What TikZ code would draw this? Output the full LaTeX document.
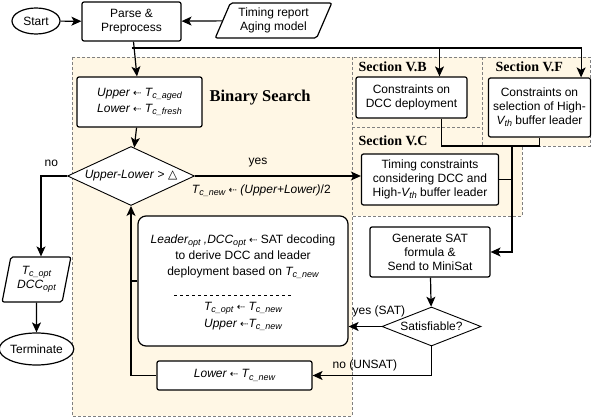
\documentclass[tikz,border=0pt]{standalone}
\usepackage{fontspec}
\setmainfont{Liberation Sans}
\newfontfamily\titlefont{Liberation Serif}
\newfontfamily\symfont{DejaVu Sans}
\usetikzlibrary{shapes.geometric,arrows.meta,backgrounds}
\definecolor{regionfill}{RGB}{255,247,229}
\newcommand{\sub}[1]{\raisebox{-0.35ex}{\fontsize{9}{9}\selectfont #1}}
\newcommand{\getsarrow}{{\symfont\fontsize{10}{10}\selectfont ⇠}}
\newcommand{\tri}{{\symfont △}}
\begin{document}
\begin{tikzpicture}[x=1pt,y=-1pt,
  font=\fontsize{12}{14}\selectfont,
  box/.style={draw, line width=1.2pt, rounded corners=2pt, align=center, inner sep=0pt, fill=white},
  decision/.style={draw, line width=0.9pt, diamond, inner sep=0pt, fill=white},
  terminal/.style={draw, line width=1.2pt, ellipse, inner sep=0pt, fill=white},
  io/.style={draw, line width=1.2pt, trapezium, trapezium stretches=true, rounded corners=2pt, align=center, inner sep=0pt, fill=white},
  region/.style={draw=gray, line width=0.5pt, dash pattern=on 3pt off 2pt, fill=regionfill},
  section/.style={font=\titlefont\bfseries\fontsize{14}{14}\selectfont, anchor=west},
  arr/.style={line width=1.2pt, -{Stealth[length=10pt,width=9pt,inset=2.5pt]}},
  line/.style={line width=1.2pt}]
  \useasboundingbox (0,0) rectangle (592,417);

  % Regions of the search and of the sections
  \draw[region] (72,57) rectangle (352,416);
  \draw[region] (352,57) rectangle (482,127);
  \draw[region] (352,127) rectangle (522,216);
  \draw[region] (482,57) rectangle (590,146);
  \node[font=\titlefont\bfseries\fontsize{16.5}{16.5}\selectfont] (bstitle) at (260,98) {Binary Search};
  \node[section] (secB) at (355,67) {Section V.B};
  \node[section] (secF) at (492,67) {Section V.F};
  \node[section] (secC) at (355,141) {Section V.C};

  % Flow nodes
  \node[terminal, minimum width=48pt, minimum height=26pt] (start) at (36,21) {Start};
  \node[box, minimum width=99pt, minimum height=39pt] (parse) at (131.5,21.5) {Parse \&\\Preprocess};
  \node[io, trapezium left angle=64, trapezium right angle=116, minimum width=117pt, minimum height=35pt] (inputs) at (273.5,20.5) {Timing report\\Aging model};
  \node[box, minimum width=125pt, minimum height=50pt, font=\itshape\fontsize{12}{16}\selectfont] (bounds) at (139.5,102) {Upper \getsarrow{} T\sub{c\_aged}\\Lower \getsarrow{} T\sub{c\_fresh}};
  \node[decision, aspect=2.15, minimum width=127pt, minimum height=59pt] (check) at (131,176) {\textit{Upper-Lower} > \tri};
  \node[box, minimum width=111pt, minimum height=41pt] (dcc) at (411.5,97.5) {Constraints on\\DCC deployment};
  \node[box, minimum width=102pt, minimum height=59pt] (leader) at (539.5,107.5) {Constraints on\\selection of High-\\\textit{V\sub{th}} buffer leader};
  \node[box, minimum width=137pt, minimum height=51pt] (timing) at (430,179.5) {Timing constraints\\considering DCC and\\High-\textit{V\sub{th}} buffer leader};
  \node[box, minimum width=120pt, minimum height=50pt] (gen) at (430,252) {Generate SAT\\formula \&\\Send to MiniSat};
  \node[decision, aspect=2.5, minimum width=99pt, minimum height=39pt] (sat) at (431.5,326.5) {Satisfiable?};
  \node[box, rounded corners=8pt, minimum width=210pt, minimum height=130pt] (decode) at (243,281) {};
  \node[align=center, font=\fontsize{12}{16}\selectfont] (decodetxt) at ([yshift=24pt]decode.center) {\textit{Leader\sub{opt} ,DCC\sub{opt}} \getsarrow{} SAT decoding\\to derive DCC and leader\\deployment based on \textit{T\sub{c\_new}}};
  \node[align=center, font=\itshape\fontsize{12}{17}\selectfont] (decoderes) at ([yshift=-35.5pt]decode.center) {T\sub{c\_opt} \getsarrow{} T\sub{c\_new}\\Upper \getsarrow{}T\sub{c\_new}};
  \draw[dashed, line width=0.6pt] ([xshift=-69pt,yshift=-14pt]decode.center) -- ([xshift=48pt,yshift=-14pt]decode.center);
  \node[box, minimum width=155pt, minimum height=29pt, font=\itshape\fontsize{12}{14}\selectfont] (lower) at (234.5,375.5) {Lower \getsarrow{} T\sub{c\_new}};
  \node[io, trapezium left angle=76, trapezium right angle=104, minimum width=69pt, minimum height=45pt, font=\itshape\fontsize{12}{14}\selectfont] (result) at (36.5,279.5) {T\sub{c\_opt}\\DCC\sub{opt}};
  \node[terminal, minimum width=69pt, minimum height=32pt] (stop) at (36.5,349) {Terminate};

  % Connectors
  \coordinate (fork) at (131.5,48);
  \coordinate (merge) at (512,146);
  \coordinate (dccin) at ([xshift=28pt]dcc.north);
  \coordinate (leaderin) at ([xshift=-10pt]leader.north east);
  \coordinate (dccout) at ([xshift=30pt]dcc.south);
  \coordinate (resultin) at ([xshift=4.5pt]result.north);
  \draw[arr] (start) -- (parse);
  \draw[arr] (inputs) -- (parse);
  \draw[arr] (parse) -- (bounds);
  \draw[arr] (fork) -| (leaderin);
  \draw[arr] (fork -| dccin) -- (dccin);
  \draw[arr] (bounds) -- (check);
  \draw[arr] (check.east) -- (check.east -| timing.west)
    node[pos=0.38, above=5pt] {yes}
    node[pos=0.4, below=5pt] {\textit{T\sub{c\_new}} \getsarrow{} \textit{(Upper+Lower)}/2};
  \draw[line] (dccout) |- (merge) -| (leader.south);
  \draw[line] (timing.east) -- (timing.east -| merge);
  \draw[arr] (merge) |- (gen.east);
  \draw[arr] (gen) -- (sat);
  \draw[arr] (sat.west) -- (sat.west -| decode.east) node[pos=0.08, above=6pt] {yes (SAT)};
  \draw[arr] (sat.south) |- (lower.east) node[pos=0.78, above=1pt] {no (UNSAT)};
  \draw[arr] (lower.west) -| (check.south);
  \draw[line] (decode.west) -- (decode.west -| check.south);
  \draw[arr] (check.west) -| (resultin) node[pos=0.3, above=5pt] {no};
  \draw[arr] (result) -- (stop);
\end{tikzpicture}
\end{document}
